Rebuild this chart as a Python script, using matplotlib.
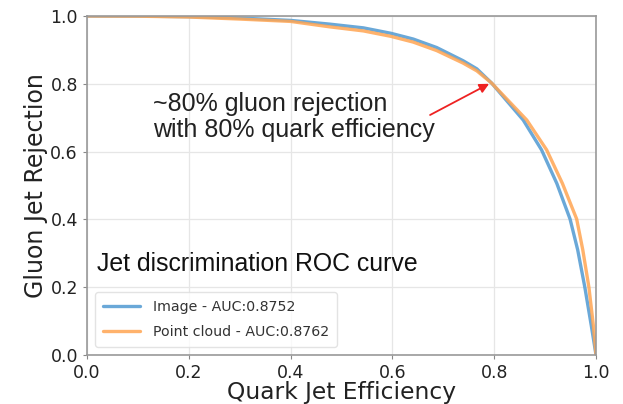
import matplotlib
matplotlib.use("Agg")
import matplotlib.pyplot as plt

# Quark jet efficiency (x) vs gluon jet rejection (y)
image_eff = [0.0, 0.1, 0.2, 0.3, 0.4, 0.477, 0.543, 0.597, 0.641, 0.687, 0.739, 0.766, 0.795,
             0.857, 0.893, 0.923, 0.949, 0.964, 0.978, 0.991, 1.0]
image_rej = [1.0, 0.9997, 0.998, 0.994, 0.987, 0.976, 0.965, 0.949, 0.932, 0.907, 0.868, 0.844, 0.802,
             0.693, 0.605, 0.506, 0.401, 0.31, 0.20, 0.084, 0.0]

cloud_eff = [0.0, 0.1, 0.2, 0.3, 0.4, 0.477, 0.543, 0.597, 0.641, 0.687, 0.739, 0.766, 0.795,
             0.864, 0.903, 0.934, 0.962, 0.974, 0.986, 0.995, 1.0]
cloud_rej = [1.0, 0.9995, 0.997, 0.991, 0.984, 0.968, 0.956, 0.940, 0.923, 0.898, 0.861, 0.838, 0.802,
             0.693, 0.605, 0.506, 0.401, 0.31, 0.20, 0.084, 0.0]

series_labels = ["Image - AUC:0.8752", "Point cloud - AUC:0.8762"]
ticks = [0.0, 0.2, 0.4, 0.6, 0.8, 1.0]

fig = plt.figure(figsize=(6.23, 4.04), dpi=100)
ax = fig.add_axes([0.1396, 0.1213, 0.8171, 0.8391])

ax.plot(image_eff, image_rej, color="#5a9fd4", lw=2.4, alpha=0.9, label=series_labels[0],
        solid_joinstyle="round", solid_capstyle="round")
ax.plot(cloud_eff, cloud_rej, color="#ffa552", lw=2.4, alpha=0.85, label=series_labels[1],
        solid_joinstyle="round", solid_capstyle="round")

ax.set_xlim(0, 1)
ax.set_ylim(0, 1)
ax.set_xticks(ticks)
ax.set_yticks(ticks)
ax.tick_params(labelsize=12.5, colors="#222222", length=3, color="#888888")
ax.grid(True, color="#e6e6e6", lw=0.9)
ax.set_axisbelow(True)
for s in ax.spines.values():
    s.set_color("#999999")
    s.set_linewidth(1.2)

ax.set_xlabel("Quark Jet Efficiency", fontsize=16.8, color="#222222", labelpad=-1)
ax.set_ylabel("Gluon Jet Rejection", fontsize=17, color="#222222", labelpad=2)

ax.text(0.13, 0.703, "~80% gluon rejection\nwith 80% quark efficiency",
        family="Liberation Sans", fontsize=18, color="#222222",
        ha="left", va="center", linespacing=1.12)
ax.annotate("", xy=(0.79, 0.80), xytext=(0.674, 0.708),
            arrowprops=dict(arrowstyle="-|>", color="#ee2222", lw=1.3,
                            mutation_scale=14, shrinkA=0, shrinkB=0))

ax.text(0.02, 0.268, "Jet discrimination ROC curve", family="Liberation Sans",
        fontsize=17.9, color="#111111", ha="left", va="center")

leg = ax.legend(loc="lower left", fontsize=10.2, frameon=True, bbox_to_anchor=(0.0, 0.0),
                borderaxespad=0.55, handlelength=2.65, handletextpad=0.9,
                labelspacing=0.8, borderpad=0.55)
leg.get_frame().set_edgecolor("#dddddd")
for t in leg.get_texts():
    t.set_color("#333333")

fig.savefig("out.png", dpi=100)
